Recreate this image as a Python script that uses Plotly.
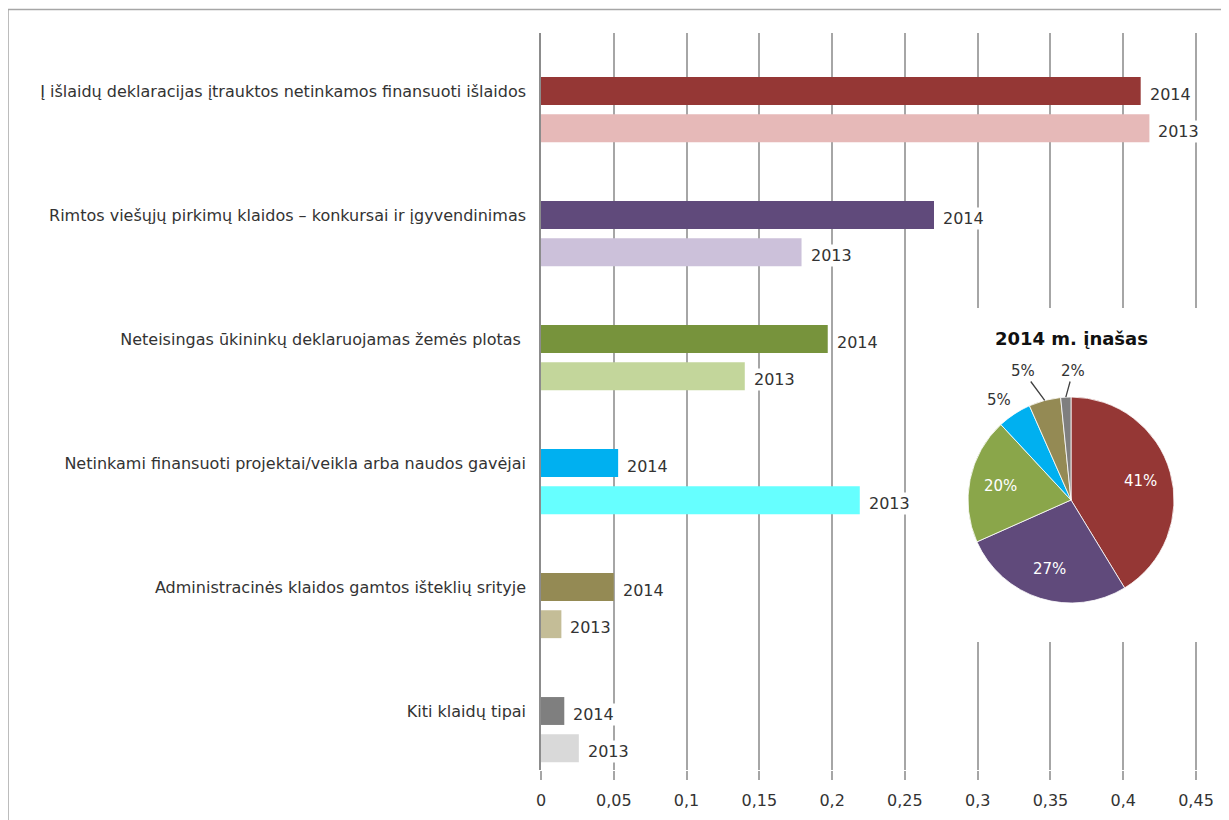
import math
import plotly.graph_objects as go

# ---------------- data ----------------
categories = [
    "Į išlaidų deklaracijas įtrauktos netinkamos finansuoti išlaidos",
    "Rimtos viešųjų pirkimų klaidos – konkursai ir įgyvendinimas",
    "Neteisingas ūkininkų deklaruojamas žemės plotas ",
    "Netinkami finansuoti projektai/veikla arba naudos gavėjai",
    "Administracinės klaidos gamtos išteklių srityje",
    "Kiti klaidų tipai",
]
values_2014 = [0.412, 0.270, 0.197, 0.053, 0.050, 0.016]
values_2013 = [0.418, 0.179, 0.140, 0.219, 0.014, 0.026]
colors_2014 = ["#953735", "#604A7B", "#77933C", "#00B0F0", "#948A54", "#7F7F7F"]
colors_2013 = ["#E6B9B8", "#CCC1DA", "#C3D69B", "#66FFFF", "#C4BD97", "#D9D9D9"]
pie_colors = ["#953735", "#604A7B", "#8AA64A", "#00B0F0", "#948A54", "#7F7F7F"]
x_ticks = [0, 0.05, 0.1, 0.15, 0.2, 0.25, 0.3, 0.35, 0.4, 0.45]
x_ticktext = ["0", "0,05", "0,1", "0,15", "0,2", "0,25", "0,3", "0,35", "0,4", "0,45"]
year_a, year_b = "2014", "2013"
pie_title = "2014 m. įnašas"

FONT = "DejaVu Sans"
TXT = "#333333"

# row positions: category index, the 2013 bar sits just below the 2014 bar
pos_2014 = [i for i in range(len(categories))]
pos_2013 = [i + 0.3 for i in range(len(categories))]

W, H = 1229, 820
L, R, T, B = 533, 0, 25, 58
PW, PH = W - L - R, H - T - B
X_PER_PX = 0.45 / (1196 - 541)          # x data units per pixel
ROW_PX = 124.0                          # pixels per category step
Y0_PX = 83                              # figure pixel of first category


def px_x(p):            # figure pixel -> paper x
    return (p - L) / PW


def px_y(p):            # figure pixel -> paper y
    return 1 - (p - T) / PH


def dx(p):              # figure pixel -> data x
    return (p - L) * X_PER_PX


def dy(p):              # figure pixel -> data y
    return (p - Y0_PX) / ROW_PX


fig = go.Figure()
fig.add_trace(go.Bar(
    y=pos_2014, x=values_2014, orientation="h", width=0.225,
    marker=dict(color=colors_2014, line=dict(width=0)),
    name=year_a, hoverinfo="x",
))
fig.add_trace(go.Bar(
    y=pos_2013, x=values_2013, orientation="h", width=0.225,
    marker=dict(color=colors_2013, line=dict(width=0)),
    name=year_b, hoverinfo="x",
))

annotations = []
for vals, poss, yr in ((values_2014, pos_2014, year_a), (values_2013, pos_2013, year_b)):
    for v, p in zip(vals, poss):
        annotations.append(dict(x=v, y=p, xref="x", yref="y", text=yr, showarrow=False,
                                xanchor="left", xshift=7, yshift=-3, bgcolor="white", borderpad=1,
                                font=dict(family=FONT, size=16, color=TXT)))

# ---------------- pie inset ----------------
cx, cy, r = 1063, 492, 103
fig.add_trace(go.Pie(
    values=values_2014, labels=categories, sort=False, direction="clockwise", rotation=0,
    marker=dict(colors=pie_colors, line=dict(color="white", width=0.8)),
    textinfo="none",
    showlegend=False,
    domain=dict(x=[px_x(cx - r), px_x(cx + r)], y=[px_y(cy + r), px_y(cy - r)]),
))
annotations.append(dict(x=px_x(cx), y=px_y(330), xref="paper", yref="paper",
                        xanchor="center", yanchor="middle",
                        text="<b>%s</b>" % pie_title, showarrow=False,
                        font=dict(family=FONT, size=18, color="#111111")))

# percentage labels, placed from the slice angles (clockwise from 12 o'clock)
total = sum(values_2014)
outside_pos = {3: (991, 392), 4: (1015, 363), 5: (1065, 363)}   # label centres for small slices
cum = 0.0
for i, v in enumerate(values_2014):
    mid = (cum + v / 2) / total * 2 * math.pi
    cum += v
    txt = "%d%%" % round(100 * v / total)
    if i not in outside_pos:
        lx = cx + 0.7 * r * math.sin(mid)
        ly = cy - 0.7 * r * math.cos(mid)
        annotations.append(dict(x=px_x(lx), y=px_y(ly), xref="paper", yref="paper",
                                xanchor="center", yanchor="middle", text=txt, showarrow=False,
                                font=dict(family=FONT, size=15, color="white")))
    else:
        lx, ly = outside_pos[i]
        tx = cx + r * math.sin(mid)
        ty = cy - r * math.cos(mid)
        if i == 3:
            annotations.append(dict(x=px_x(lx), y=px_y(ly), xref="paper", yref="paper",
                                    xanchor="center", yanchor="middle", text=txt, showarrow=False,
                                    font=dict(family=FONT, size=15, color=TXT)))
        else:
            annotations.append(dict(x=px_x(tx), y=px_y(ty), xref="paper", yref="paper",
                                    ax=lx - tx, ay=ly - ty, text=txt, showarrow=True,
                                    arrowhead=0, arrowwidth=1.3, arrowcolor="#404040",
                                    standoff=0, startstandoff=0,
                                    font=dict(family=FONT, size=15, color=TXT)))

shapes = [
    # white panel behind the pie (covers gridlines)
    dict(type="rect", xref="x", yref="y", layer="between",
         x0=dx(932), x1=dx(1240), y0=dy(300), y1=dy(634),
         fillcolor="white", line=dict(width=0)),
    # outer chart frame
    dict(type="rect", xref="paper", yref="paper", layer="above",
         x0=px_x(0.0), x1=px_x(1300), y0=px_y(900), y1=px_y(1.5),
         fillcolor="rgba(0,0,0,0)", line=dict(color="#A6A6A6", width=1.5)),
]

fig.update_layout(
    width=W, height=H,
    margin=dict(l=L, r=R, t=T, b=B),
    paper_bgcolor="white", plot_bgcolor="white",
    showlegend=False,
    annotations=annotations,
    shapes=shapes,
    font=dict(family=FONT, size=16, color=TXT),
    xaxis=dict(range=[0, PW * X_PER_PX], tickvals=x_ticks, ticktext=x_ticktext,
               showgrid=True, gridcolor="#A6A6A6", gridwidth=1.5,
               ticks="outside", ticklen=9, tickcolor="#A6A6A6", tickwidth=1.5,
               ticklabelstandoff=7, zeroline=False, showline=False,
               tickfont=dict(family=FONT, size=16, color=TXT)),
    yaxis=dict(range=[dy(H - B), dy(T)], tickvals=pos_2014, ticktext=categories,
               showgrid=False, zeroline=False, showline=True, linecolor="#8C8C8C", linewidth=1.5,
               ticks="", ticklabelstandoff=10,
               tickfont=dict(family=FONT, size=16, color=TXT)),
)

fig.write_html("out.html")
